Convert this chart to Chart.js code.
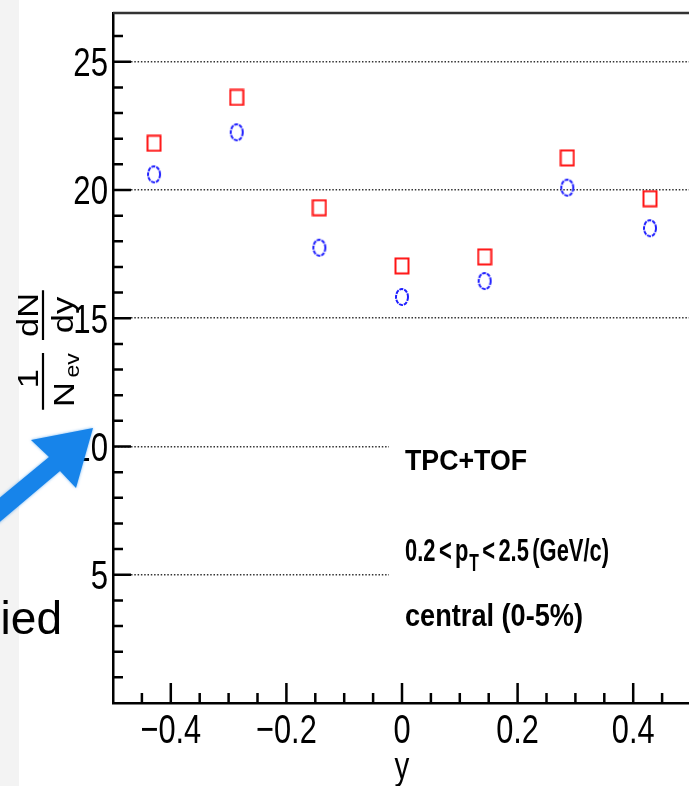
<!DOCTYPE html>
<html>
<head>
<meta charset="utf-8">
<script src="https://cdn.jsdelivr.net/npm/chart.js@4.4.1/dist/chart.umd.min.js"></script>
<style>
  html, body { margin: 0; padding: 0; background: #fff; overflow: hidden; }
  #wrap { position: absolute; left: 0; top: 0; width: 700px; height: 786px; }
</style>
</head>
<body>
<div id="wrap"><canvas id="c"></canvas></div>
<script>
// rapidity bin centres
const rapidity = [-0.429, -0.286, -0.143, 0, 0.143, 0.286, 0.429];
// 1/Nev dN/dy, red open squares
const yieldSquares = [21.82, 23.61, 19.31, 17.04, 17.39, 21.25, 19.66];
// 1/Nev dN/dy, blue open circles
const yieldCircles = [20.61, 22.25, 17.75, 15.83, 16.45, 20.09, 18.51];
// axis ticks
const xTicks = [-0.4, -0.2, 0, 0.2, 0.4];
const yTicks = [0, 5, 10, 15, 20, 25];
// pave text
const paveTitle = 'TPC+TOF';
const paveRange = ['0.2', '<', 'p', 'T', '<', '2.5', '(GeV/c)'];
const paveCentrality = 'central (0-5%)';

const sans = "'Liberation Sans', Arial, sans-serif";

function fmtX(v) {
  if (v === 0) return '0';
  return (v < 0 ? '\u2212' : '') + Math.abs(v).toFixed(1);
}

function squareMarker() {
  const c = document.createElement('canvas');
  c.width = 16; c.height = 18;
  const g = c.getContext('2d');
  g.strokeStyle = '#ff1414';
  g.lineWidth = 2;
  g.strokeRect(1.5, 1.5, 13, 15);
  return c;
}
function ringMarker() {
  const c = document.createElement('canvas');
  c.width = 16; c.height = 20;
  const g = c.getContext('2d');
  g.strokeStyle = '#1e1eff';
  g.lineWidth = 2;
  g.setLineDash([4, 1]);
  g.beginPath();
  g.ellipse(8, 10, 6, 8, 0, 0, Math.PI * 2);
  g.stroke();
  return c;
}

// draw pieces of text squeezed to a target width; gap parts are plain spacing
function squeezed(ctx, parts, x, y, width) {
  let total = 0;
  parts.forEach(p => {
    if (p.gap) { p.w = p.gap; } else { ctx.font = p.font; p.w = ctx.measureText(p.text).width; }
    total += p.w;
  });
  const s = width / total;
  ctx.save();
  ctx.translate(x, y);
  ctx.scale(s, 1);
  let cx = 0;
  parts.forEach(p => {
    if (!p.gap) {
      ctx.font = p.font;
      ctx.fillText(p.text, cx, p.dy || 0);
    }
    cx += p.w;
  });
  ctx.restore();
}

const rootLook = {
  id: 'rootLook',
  beforeDraw(chart) {
    const ctx = chart.ctx;
    ctx.save();
    ctx.fillStyle = '#f3f3f3';
    ctx.fillRect(0, 0, 19, chart.height);
    ctx.restore();
  },
  beforeDatasetsDraw(chart) {
    const {ctx, chartArea} = chart;
    const big = 'bold 32px ' + sans;
    ctx.save();
    ctx.fillStyle = '#fff';
    ctx.fillRect(389, 425, chartArea.right - 389, 262);
    ctx.fillStyle = '#000';
    ctx.textAlign = 'left';
    ctx.textBaseline = 'alphabetic';
    squeezed(ctx, [{text: paveTitle, font: 'bold 29px ' + sans}], 405, 470, 122);
    squeezed(ctx, [
      {text: paveRange[0], font: big}, {gap: 5},
      {text: paveRange[1], font: big}, {gap: 5},
      {text: paveRange[2], font: big}, {gap: 1},
      {text: paveRange[3], font: 'bold 23px ' + sans, dy: 10}, {gap: 5},
      {text: paveRange[4], font: big}, {gap: 5},
      {text: paveRange[5], font: big}, {gap: 5},
      {text: paveRange[6], font: big}
    ], 405, 561, 204);
    squeezed(ctx, [{text: paveCentrality, font: 'bold 32px ' + sans}], 405, 626, 178);
    ctx.restore();
  },
  afterDraw(chart) {
    const {ctx, chartArea} = chart;
    const xs = chart.scales.x, ys = chart.scales.y;
    ctx.save();
    // inner tick marks
    ctx.strokeStyle = '#000';
    ctx.lineWidth = 2.5;
    ctx.beginPath();
    for (let v = 1; v < ys.max; v++) {
      const py = ys.getPixelForValue(v);
      const len = v % 5 === 0 ? 18 : 10;
      ctx.moveTo(chartArea.left, py);
      ctx.lineTo(chartArea.left + len, py);
    }
    for (let k = -9; k <= 9; k++) {
      const px = xs.getPixelForValue(k * 0.05);
      const len = k % 4 === 0 ? 20 : 10;
      ctx.moveTo(px, chartArea.bottom);
      ctx.lineTo(px, chartArea.bottom - len);
    }
    ctx.stroke();
    // top frame
    ctx.strokeStyle = '#333';
    ctx.lineWidth = 2.5;
    ctx.beginPath();
    ctx.moveTo(chartArea.left, chartArea.top);
    ctx.lineTo(chartArea.right, chartArea.top);
    ctx.stroke();

    // tick labels, condensed like the ROOT canvas
    ctx.fillStyle = '#000';
    ctx.font = '41px ' + sans;
    ctx.textBaseline = 'alphabetic';
    ys.ticks.forEach(t => {
      if (t.value === 0) return;
      ctx.save();
      ctx.translate(chartArea.left - 5, ys.getPixelForValue(t.value) + 14.5);
      ctx.scale(0.76, 1);
      ctx.textAlign = 'right';
      ctx.fillText(String(t.value), 0, 0);
      ctx.restore();
    });
    xs.ticks.forEach(t => {
      ctx.save();
      ctx.translate(xs.getPixelForValue(t.value), 743);
      ctx.scale(0.75, 1);
      ctx.textAlign = 'center';
      ctx.fillText(fmtX(t.value), 0, 0);
      ctx.restore();
    });
    // x title
    ctx.save();
    ctx.translate((chartArea.left + chartArea.right) / 2, 779);
    ctx.scale(0.78, 1);
    ctx.font = '38px ' + sans;
    ctx.textAlign = 'center';
    ctx.fillText('y', 0, 0);
    ctx.restore();

    // y title: 1/N_ev dN/dy, rotated
    ctx.save();
    ctx.translate(43, 350);
    ctx.rotate(-Math.PI / 2);
    ctx.scale(1.15, 1);
    ctx.fillStyle = '#000';
    ctx.strokeStyle = '#000';
    ctx.lineWidth = 2.2;
    ctx.beginPath();
    ctx.moveTo(-52, 0); ctx.lineTo(-2.5, 0);
    ctx.moveTo(8.7, 0); ctx.lineTo(52, 0);
    ctx.stroke();
    ctx.font = '30px ' + sans;
    ctx.textAlign = 'center';
    ctx.fillText('1', -25, -5);
    ctx.fillText('dN', 30.5, -5);
    ctx.fillText('dy', 30.5, 30);
    ctx.textAlign = 'left';
    ctx.fillText('N', -49.5, 31);
    ctx.font = '20px ' + sans;
    ctx.fillText('ev', -24, 36);
    ctx.restore();

    // blue arrow
    ctx.save();
    ctx.fillStyle = '#1784ea';
    ctx.shadowColor = 'rgba(23,132,234,0.6)';
    ctx.shadowBlur = 3;
    ctx.beginPath();
    ctx.moveTo(93, 428);
    ctx.lineTo(31, 440);
    ctx.lineTo(49, 457);
    ctx.lineTo(-26, 519);
    ctx.lineTo(-12, 532);
    ctx.lineTo(60, 471);
    ctx.lineTo(76, 488);
    ctx.closePath();
    ctx.fill();
    ctx.restore();

    // cut-off slide text
    ctx.fillStyle = '#000';
    ctx.font = '46px ' + sans;
    ctx.textAlign = 'right';
    ctx.textBaseline = 'alphabetic';
    ctx.fillText('ied', 62, 634);
    ctx.restore();
  }
};

new Chart(document.getElementById('c'), {
  type: 'scatter',
  data: {
    datasets: [
      {
        label: 'squares',
        data: rapidity.map((x, i) => ({x, y: yieldSquares[i]})),
        pointStyle: squareMarker(),
        pointRadius: 8
      },
      {
        label: 'circles',
        data: rapidity.map((x, i) => ({x, y: yieldCircles[i]})),
        pointStyle: ringMarker(),
        pointRadius: 8
      }
    ]
  },
  options: {
    responsive: true,
    maintainAspectRatio: false,
    animation: false,
    layout: { padding: { top: 13, right: 1.5, left: 0, bottom: 0 } },
    plugins: { legend: { display: false }, tooltip: { enabled: false } },
    scales: {
      x: {
        type: 'linear',
        min: -0.5,
        max: 0.5,
        afterBuildTicks: s => { s.ticks = xTicks.map(v => ({value: v})); },
        afterFit: s => { s.height = 83; s.paddingLeft = 0; s.paddingRight = 0; },
        grid: { display: false },
        border: { display: true, color: '#000', width: 2.5 },
        ticks: { display: false }
      },
      y: {
        min: 0,
        max: 26.9,
        afterBuildTicks: s => { s.ticks = yTicks.map(v => ({value: v})); },
        afterFit: s => { s.width = 113; s.paddingTop = 0; s.paddingBottom = 0; },
        grid: {
          drawTicks: false,
          lineWidth: 1.5,
          color: c => (c.tick && c.tick.value === 0 ? 'rgba(0,0,0,0)' : '#333')
        },
        border: { display: true, color: '#000', width: 2.5, dash: [1.5, 1.8] },
        ticks: { display: false }
      }
    }
  },
  plugins: [rootLook]
});
</script>
</body>
</html>
